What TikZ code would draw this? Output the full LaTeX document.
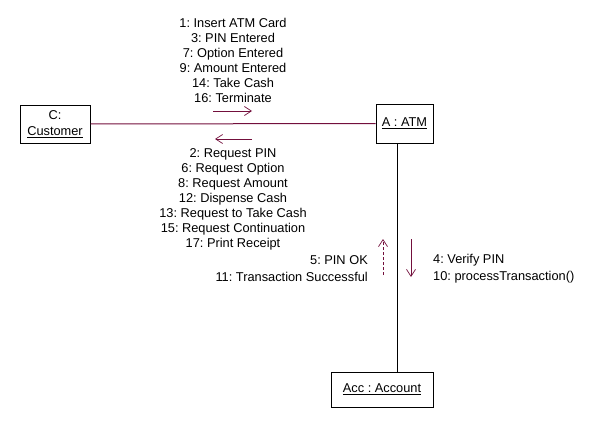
\documentclass[tikz,border=0pt]{standalone}
\usepackage{fontspec}
\setmainfont{Liberation Sans}
\usepackage{tikz}
\usetikzlibrary{
  arrows.meta,
  positioning,
}
\definecolor{msgred}{RGB}{115,15,60}
\frenchspacing

\begin{document}
\begin{tikzpicture}[x=1pt, y=-1pt,
  font=\fontsize{12.8}{15}\selectfont,
  object/.style={draw, line width=1pt, minimum width=#1, align=center, inner sep=0pt},
  msg/.style={draw=msgred, line width=1pt, -{Straight Barb[length=7pt,width=9pt,line width=0.7pt]}},
  reply/.style={msg, dash pattern=on 3pt off 2pt},
  msglist/.style={inner sep=0pt}]
\useasboundingbox (0,0) rectangle (608,428);

\node[object=70pt, minimum height=38pt] (cust) at (55,124) {C:\\[1pt]\underline{Customer}};
\node[object=57pt, minimum height=39pt] (atm) at (404.5,123.5) {\underline{A : ATM}};
\node[object=102pt, minimum height=35pt] (acc) at (382,389.5) {\underline{Acc : Account}};

\coordinate (link) at (397.5,0);
\draw[msgred, line width=1pt] (cust.east) -- (atm.west);
\draw[line width=1pt] (atm.south -| link) -- (acc.north -| link);

% Customer -> ATM
\node[msglist, align=center, anchor=north] (toatm) at (233,17.8)
  {1: Insert ATM Card\\3: PIN Entered\\7: Option Entered\\9: Amount Entered\\14: Take Cash\\16: Terminate};
\coordinate (ca1) at (213,111);
\coordinate (ca2) at (252,111);
\draw[msg] (ca1) -- (ca2);

% ATM -> Customer
\coordinate (ac1) at (252,139);
\coordinate (ac2) at (215,139);
\draw[msg] (ac1) -- (ac2);
\node[msglist, align=center, anchor=north] (tocust) at (233,148.8)
  {2: Request PIN\\6: Request Option\\8: Request Amount\\12: Dispense Cash\\13: Request to Take Cash\\15: Request Continuation\\17: Print Receipt};

% ATM -> Account
\coordinate (aa1) at (411,239);
\coordinate (aa2) at (411,277);
\draw[msg] (aa1) -- (aa2);
\node[msglist, align=left, anchor=north west] (toacc) at (433,253.8)
  {4: Verify PIN\\[2pt]10: processTransaction()};

% Account -> ATM
\coordinate (ra1) at (383,275);
\coordinate (ra2) at (383,239);
\draw[reply] (ra1) -- (ra2);
\node[msglist, align=right, anchor=north east] (fromacc) at (368,255.8)
  {5: PIN OK\\[1.5pt]11: Transaction Successful};
\end{tikzpicture}
\end{document}
